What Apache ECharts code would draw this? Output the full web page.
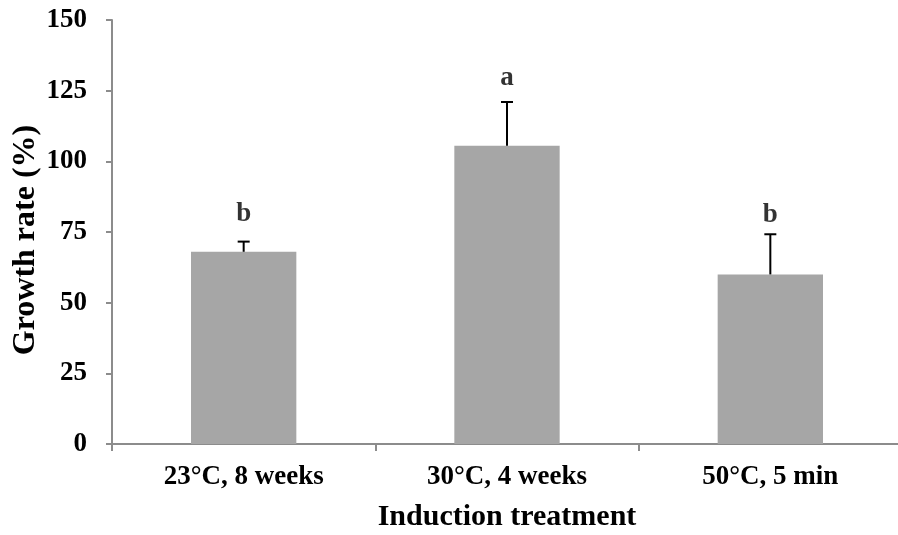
<!DOCTYPE html>
<html>
<head>
<meta charset="utf-8">
<script src="https://cdn.jsdelivr.net/npm/echarts@6/dist/echarts.min.js"></script>
<style>
html,body{margin:0;padding:0;background:#fff;}
#chart{width:898px;height:535px;}
</style>
</head>
<body>
<div id="chart"></div>
<script>
const categories = ['23°C, 8 weeks', '30°C, 4 weeks', '50°C, 5 min'];
const values = [68, 105.5, 60];
const errors = [3.6, 15.5, 14.2];
const letters = ['b', 'a', 'b'];
const letterY = [81.5, 129.5, 81];
const yTicks = [0, 25, 50, 75, 100, 125, 150];

const FONT = '"Liberation Serif", "Times New Roman", serif';
const chart = echarts.init(document.getElementById('chart'));
chart.setOption({
  animation: false,
  grid: { left: 112, top: 20, bottom: 91, width: 790, containLabel: false, outerBoundsMode: 'none' },
  xAxis: {
    type: 'category',
    data: categories,
    boundaryGap: true,
    name: 'Induction treatment',
    nameLocation: 'middle',
    nameGap: 58,
    nameMoveOverlap: false,
    nameTextStyle: { fontFamily: FONT, fontWeight: 'bold', fontSize: 30, color: '#000' },
    axisLine: { lineStyle: { color: '#8c8c8c', width: 2 } },
    axisTick: { show: true, alignWithLabel: false, length: 7, lineStyle: { color: '#8c8c8c', width: 2 } },
    axisLabel: { margin: 20, fontFamily: FONT, fontWeight: 'bold', fontSize: 27, color: '#000' }
  },
  yAxis: {
    type: 'value',
    min: yTicks[0],
    max: yTicks[yTicks.length - 1],
    interval: 25,
    name: 'Growth rate (%)',
    nameLocation: 'middle',
    nameGap: 70,
    nameMoveOverlap: false,
    nameTextStyle: { fontFamily: FONT, fontWeight: 'bold', fontSize: 32, color: '#000', padding: [0, 16, 0, 0] },
    splitLine: { show: false },
    axisLine: { show: true, lineStyle: { color: '#8c8c8c', width: 2 } },
    axisTick: { show: true, length: 6, lineStyle: { color: '#8c8c8c', width: 2 } },
    axisLabel: { margin: 25, fontFamily: FONT, fontWeight: 'bold', fontSize: 27, color: '#000' }
  },
  series: [
    {
      type: 'bar',
      data: values,
      barWidth: '40%',
      itemStyle: { color: '#a6a6a6' },
      z: 2
    },
    {
      type: 'custom',
      data: values.map((v, i) => [i, v, v + errors[i]]),
      z: 3,
      renderItem: function (params, api) {
        const i = api.value(0);
        const p0 = api.coord([i, api.value(1)]);
        const p1 = api.coord([i, api.value(2)]);
        const st = { stroke: '#000', lineWidth: 2 };
        return {
          type: 'group',
          children: [
            { type: 'line', shape: { x1: p0[0], y1: p0[1], x2: p1[0], y2: p1[1] }, style: st },
            { type: 'line', shape: { x1: p1[0] - 6, y1: p1[1], x2: p1[0] + 6, y2: p1[1] }, style: st }
          ]
        };
      }
    },
    {
      type: 'scatter',
      data: letterY.map((y, i) => [i, y]),
      symbolSize: 0,
      z: 4,
      label: {
        show: true,
        position: 'inside',
        formatter: p => letters[p.dataIndex],
        fontFamily: FONT, fontWeight: 'bold', fontSize: 27, color: '#000'
      }
    }
  ]
});
</script>
</body>
</html>
